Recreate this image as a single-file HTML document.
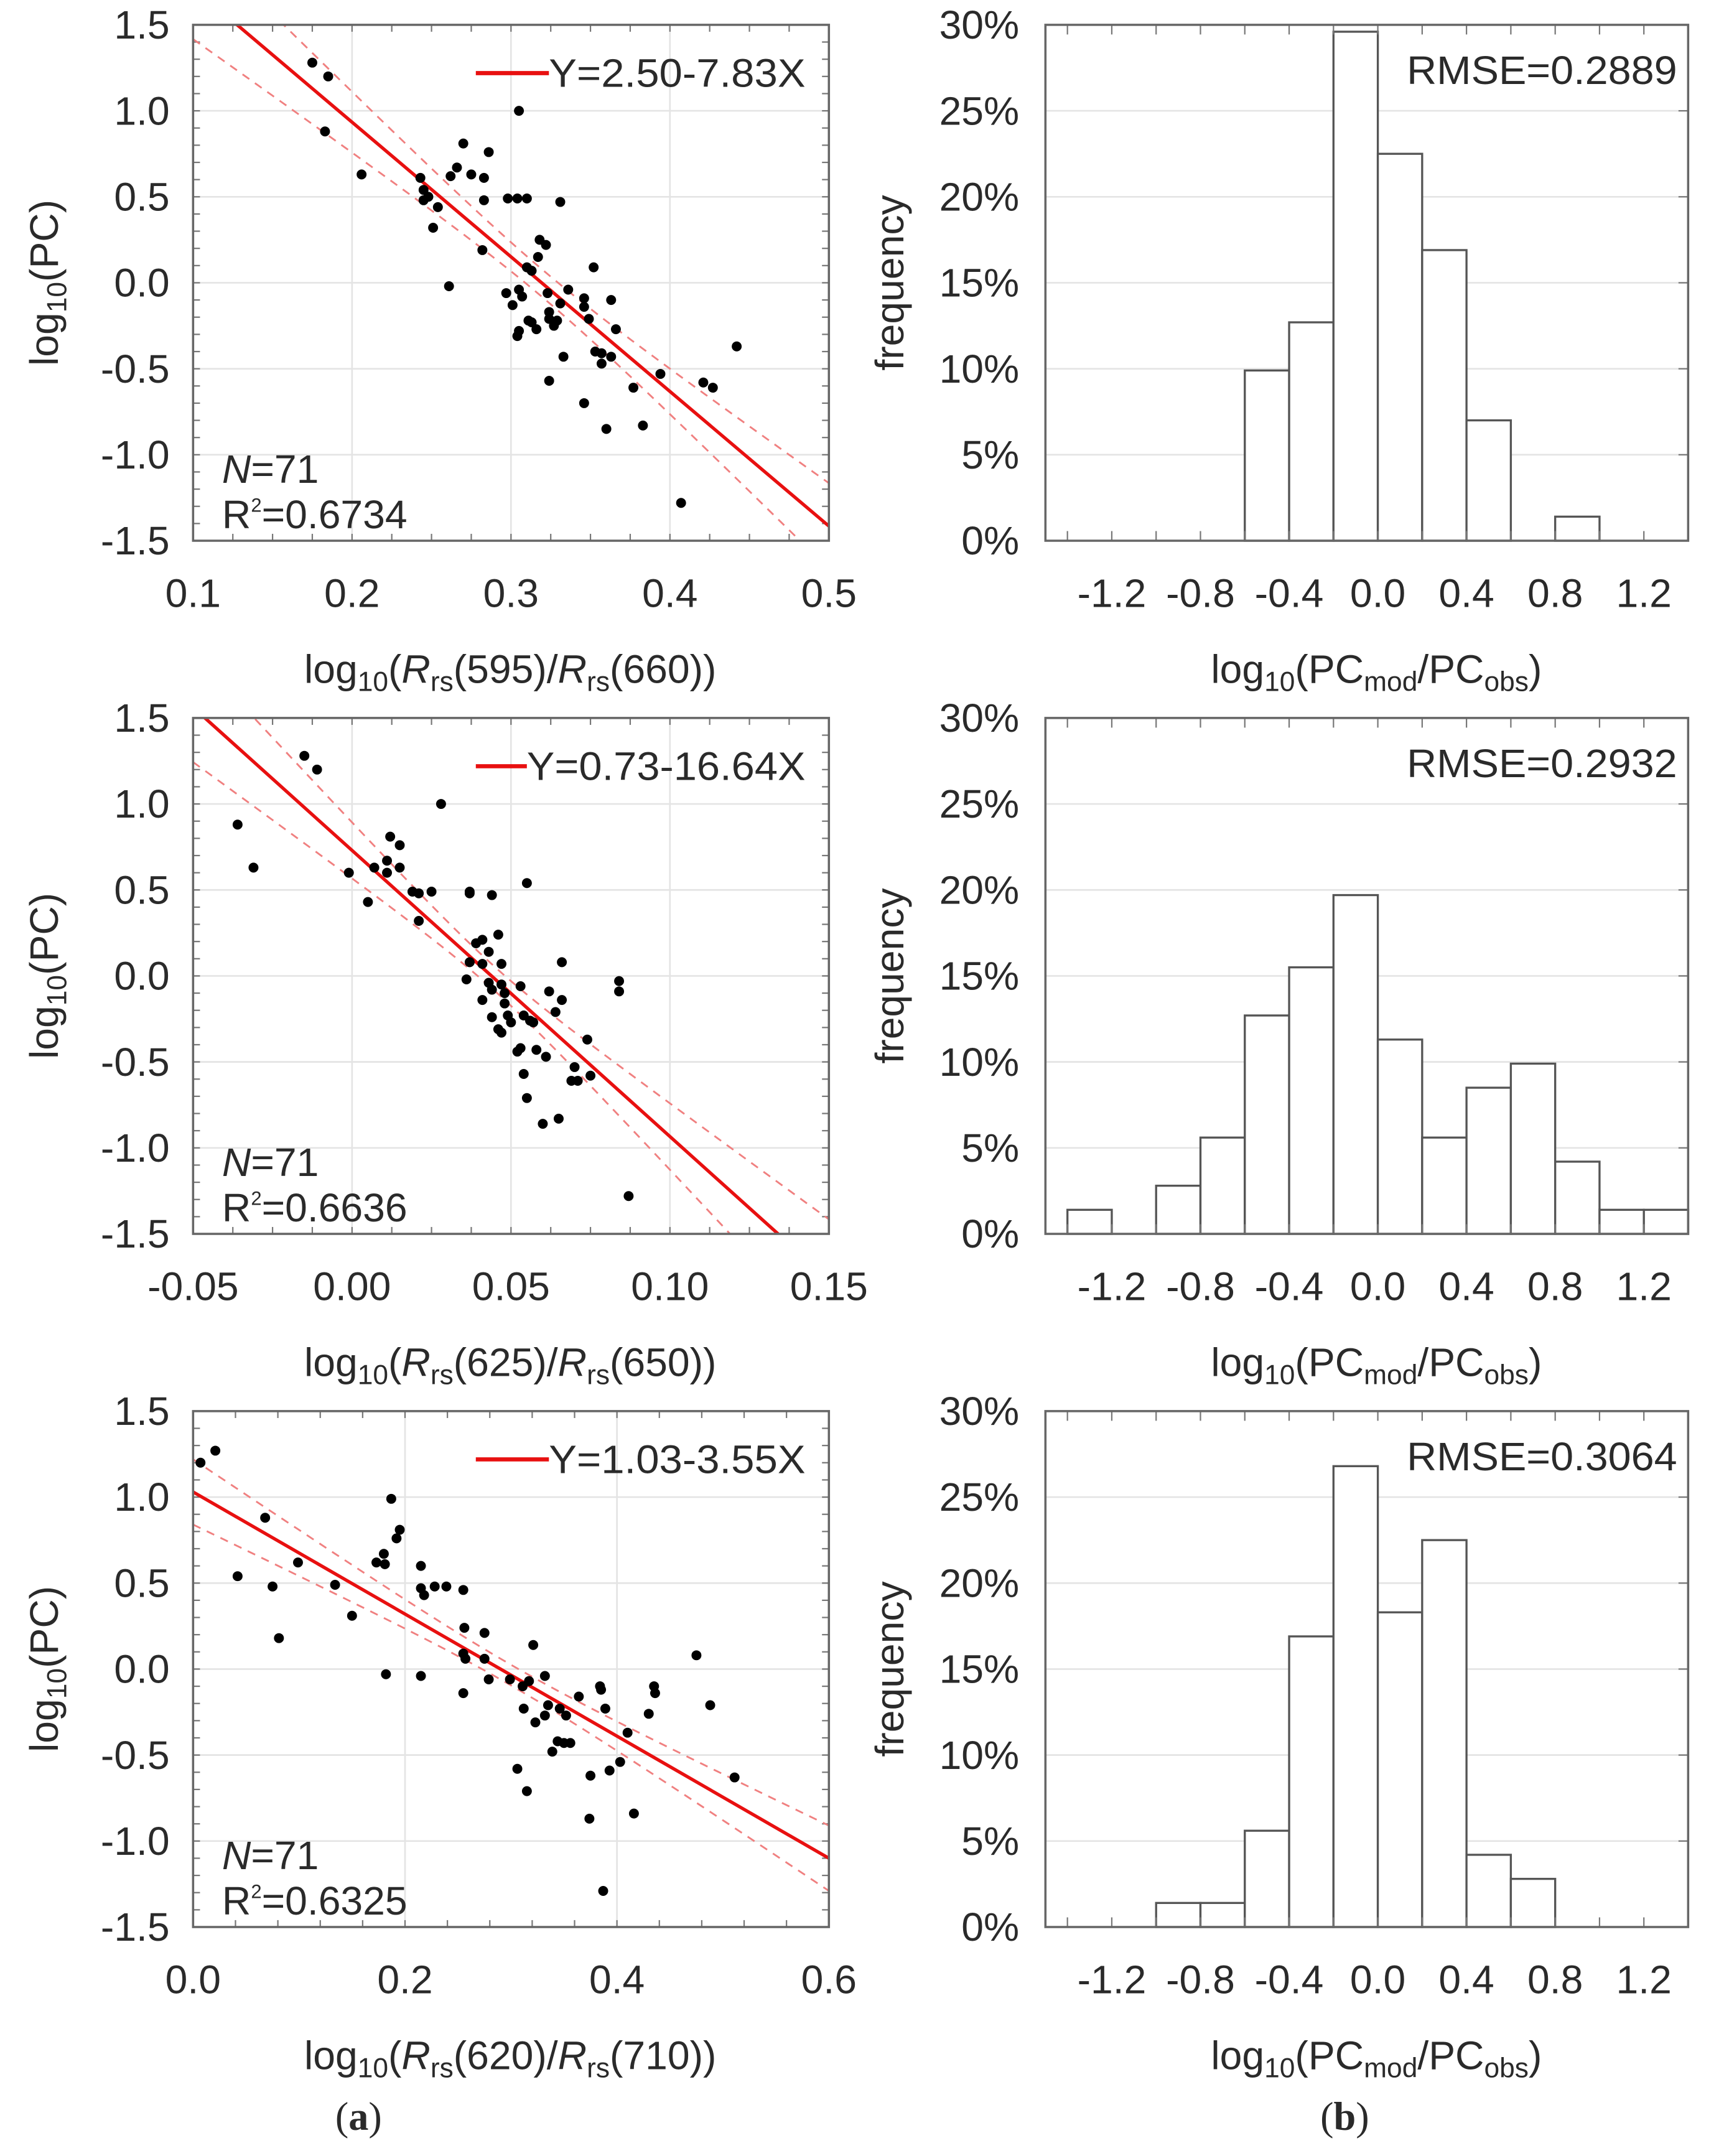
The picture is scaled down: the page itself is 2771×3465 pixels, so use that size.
<!DOCTYPE html>
<html><head><meta charset="utf-8"><style>
html,body{margin:0;padding:0;background:#fff;}
svg{display:block;}
text{font-family:"Liberation Sans",Arial,sans-serif;fill:#2a2a2a;}
</style></head><body>
<svg id="fig" width="2771" height="3465" viewBox="0 0 1250 1563" preserveAspectRatio="none" xmlns="http://www.w3.org/2000/svg">
<text x="260" y="1544" text-anchor="middle" font-size="29" style="font-family:'Liberation Serif',serif">(<tspan font-weight="bold">a</tspan>)</text>
<text x="975" y="1544" text-anchor="middle" font-size="29" style="font-family:'Liberation Serif',serif">(<tspan font-weight="bold">b</tspan>)</text>
</svg>
<script>
// ---- data ----
const s1x=[0.175,0.185,0.183,0.206,0.243,0.245,0.245,0.248,0.254,0.251,0.262,0.266,0.270,0.275,0.283,0.286,0.283,0.282,0.261,0.298,0.304,0.310,0.305,0.331,0.318,0.322,0.317,0.310,0.313,0.297,0.301,0.305,0.307,0.304,0.305,0.311,0.313,0.316,0.323,0.324,0.324,0.327,0.329,0.331,0.336,0.333,0.324,0.346,0.346,0.349,0.352,0.363,0.366,0.353,0.357,0.357,0.363,0.346,0.360,0.377,0.383,0.394,0.421,0.427,0.442,0.407];
const s1y=[1.28,1.20,0.88,0.63,0.61,0.54,0.48,0.50,0.44,0.32,0.62,0.67,0.81,0.63,0.61,0.76,0.48,0.19,-0.02,0.49,0.49,0.49,1.00,0.47,0.25,0.22,0.15,0.09,0.07,-0.06,-0.13,-0.04,-0.08,-0.31,-0.28,-0.22,-0.23,-0.27,-0.06,-0.17,-0.21,-0.25,-0.22,-0.12,-0.04,-0.43,-0.57,-0.09,-0.14,-0.21,0.09,-0.10,-0.27,-0.40,-0.41,-0.47,-0.43,-0.70,-0.85,-0.61,-0.83,-0.53,-0.58,-0.61,-0.37,-1.28];
const s2x=[-0.036,-0.031,-0.015,-0.011,-0.001,0.005,0.007,0.011,0.011,0.012,0.015,0.015,0.019,0.021,0.025,0.021,0.028,0.037,0.037,0.044,0.055,0.046,0.039,0.041,0.043,0.037,0.041,0.047,0.036,0.043,0.044,0.047,0.048,0.041,0.048,0.053,0.044,0.049,0.050,0.046,0.047,0.054,0.056,0.057,0.062,0.066,0.066,0.064,0.052,0.053,0.058,0.061,0.054,0.055,0.060,0.065,0.074,0.070,0.069,0.071,0.075,0.084,0.084,0.087];
const s2y=[0.88,0.63,1.28,1.20,0.60,0.43,0.63,0.67,0.60,0.81,0.76,0.63,0.49,0.48,0.49,0.32,1.00,0.49,0.48,0.47,0.54,0.24,0.19,0.21,0.14,0.08,0.07,0.07,-0.02,-0.04,-0.08,-0.05,-0.10,-0.14,-0.16,-0.06,-0.24,-0.23,-0.27,-0.31,-0.33,-0.23,-0.26,-0.27,-0.09,-0.14,0.08,-0.21,-0.44,-0.42,-0.43,-0.47,-0.57,-0.71,-0.86,-0.83,-0.37,-0.53,-0.61,-0.61,-0.58,-0.03,-0.09,-1.28];
const s3x=[0.007,0.021,0.042,0.068,0.075,0.081,0.099,0.134,0.150,0.173,0.180,0.181,0.182,0.187,0.192,0.195,0.215,0.215,0.218,0.228,0.239,0.255,0.215,0.256,0.255,0.257,0.255,0.275,0.275,0.279,0.299,0.311,0.317,0.321,0.332,0.312,0.323,0.332,0.335,0.346,0.352,0.364,0.344,0.350,0.356,0.339,0.384,0.385,0.389,0.306,0.315,0.375,0.374,0.393,0.403,0.410,0.416,0.430,0.435,0.436,0.475,0.488,0.511,0.387];
const s3y=[1.20,1.27,0.54,0.88,0.48,0.18,0.62,0.49,0.31,0.62,0.67,0.61,-0.03,0.99,0.76,0.81,0.60,0.47,0.43,0.48,0.48,0.46,-0.04,0.24,0.09,0.06,-0.14,0.21,0.06,-0.06,-0.06,-0.10,-0.07,0.14,-0.04,-0.23,-0.31,-0.27,-0.21,-0.23,-0.27,-0.16,-0.42,-0.43,-0.43,-0.48,-0.10,-0.12,-0.23,-0.58,-0.71,-0.62,-0.87,-0.59,-0.54,-0.37,-0.84,-0.26,-0.10,-0.14,0.08,-0.21,-0.63,-1.29];
const fitA=[2.50,0.73,1.03];
const fitB=[-7.83,-16.64,-3.55];
const legendText=["Y=2.50-7.83X","Y=0.73-16.64X","Y=1.03-3.55X"];
const r2Text=["0.6734","0.6636","0.6325"];
const xTicks1=[0.1,0.2,0.3,0.4,0.5];
const xTicks2=[-0.05,0.00,0.05,0.10,0.15];
const xTicks3=[0.0,0.2,0.4,0.6];
const xTickLabels1=["0.1","0.2","0.3","0.4","0.5"];
const xTickLabels2=["-0.05","0.00","0.05","0.10","0.15"];
const xTickLabels3=["0.0","0.2","0.4","0.6"];
const yTicks=[1.5,1.0,0.5,0.0,-0.5,-1.0,-1.5];
const yTickLabels=["1.5","1.0","0.5","0.0","-0.5","-1.0","-1.5"];
const xBands=[["595","660"],["625","650"],["620","710"]];
const binStarts=[-1.4,-1.2,-1.0,-0.8,-0.6,-0.4,-0.2,0.0,0.2,0.4,0.6,0.8,1.0,1.2];
const hist1=[0,0,0,0,9.9,12.7,29.6,22.5,16.9,7.0,0,1.4,0,0];
const hist2=[1.4,0,2.8,5.6,12.7,15.5,19.7,11.3,5.6,8.5,9.9,4.2,1.4,1.4];
const hist3=[0,0,1.4,1.4,5.6,16.9,26.8,18.3,22.5,4.2,2.8,0,0,0];
const rmseText=["RMSE=0.2889","RMSE=0.2932","RMSE=0.3064"];
const hxTicks=[-1.2,-0.8,-0.4,0.0,0.4,0.8,1.2];
const hxTickLabels=["-1.2","-0.8","-0.4","0.0","0.4","0.8","1.2"];
const hyTicks=[0,5,10,15,20,25,30];
const ciMid=[0.32,0.045,0.30];
const ciM=[0.08,0.07,0.06];
const ciK=[1.73,10.7,0.36];

const NS="http://www.w3.org/2000/svg";
const svg=document.getElementById('fig');
function el(t,a,p){const e=document.createElementNS(NS,t);for(const k in a)e.setAttribute(k,a[k]);(p||svg).appendChild(e);return e;}

const SX=[[0.1,0.5],[-0.05,0.15],[0.0,0.6]];
const SXS=[s1x,s2x,s3x],SYS=[s1y,s2y,s3y];
const XT=[xTicks1,xTicks2,xTicks3],XTL=[xTickLabels1,xTickLabels2,xTickLabels3];
const XMIN=[0.025,0.0125,0.04];
const HS=[hist1,hist2,hist3];
const LEGX=[398,382,398];
const L=140,R=601,HL=758,HR=1224;
const FS=29;

for(let p=0;p<3;p++){
  const off=p*502.5, T=18+off, B=392+off;
  const [x0,x1]=SX[p];
  const xm=v=>L+(v-x0)/(x1-x0)*(R-L);
  const ym=v=>T+(1.5-v)/3*(B-T);
  const g=el('g',{});
  
  
  const cid='clip'+p;
  const cp=el('clipPath',{id:cid},g);el('rect',{x:L,y:T,width:R-L,height:B-T},cp);
  XT[p].forEach(v=>{const l=el('line',{x1:xm(v),x2:xm(v),y1:T,y2:B,stroke:'#e4e4e4','stroke-width':1.2},g);});
  yTicks.forEach(v=>{const l=el('line',{x1:L,x2:R,y1:ym(v),y2:ym(v),stroke:'#e4e4e4','stroke-width':1.2},g);});
  for(let v=x0;v<=x1+1e-9;v+=XMIN[p]){const X=xm(v);el('line',{x1:X,x2:X,y1:B,y2:B-5,stroke:'#777','stroke-width':1},g);el('line',{x1:X,x2:X,y1:T,y2:T+5,stroke:'#777','stroke-width':1},g);}
  for(let v=-1.5;v<=1.5+1e-9;v+=0.1){const Y=ym(v);el('line',{x1:L,x2:L+5,y1:Y,y2:Y,stroke:'#777','stroke-width':1},g);el('line',{x1:R,x2:R-5,y1:Y,y2:Y,stroke:'#777','stroke-width':1},g);}
  const cg=el('g',{'clip-path':'url(#'+cid+')'},g);
  [1,-1].forEach(sgn=>{let d='';for(let i=0;i<=80;i++){const x=x0+(x1-x0)*i/80;const f=fitA[p]+fitB[p]*x;const hw=Math.sqrt(ciM[p]*ciM[p]+ciK[p]*(x-ciMid[p])*(x-ciMid[p]));d+=(i?'L':'M')+xm(x).toFixed(2)+','+ym(f+sgn*hw).toFixed(2);}
    const pa=el('path',{d:d,fill:'none',stroke:'#f08080','stroke-width':1.3,'stroke-dasharray':'6,5'},cg);});
  const fl=el('line',{x1:xm(x0),y1:ym(fitA[p]+fitB[p]*x0),x2:xm(x1),y2:ym(fitA[p]+fitB[p]*x1),stroke:'#e81010','stroke-width':2.4},cg);
  
  SXS[p].forEach((x,i)=>{const c=el('circle',{cx:xm(x),cy:ym(SYS[p][i]),r:3.6,fill:'#000'},cg);});
  const fr=el('rect',{x:L,y:T,width:R-L,height:B-T,fill:'none',stroke:'#666','stroke-width':1.6},g);
  
  XT[p].forEach((v,i)=>{const t=el('text',{x:xm(v),y:B+48,'text-anchor':'middle','font-size':FS},g);t.textContent=XTL[p][i];});
  yTicks.forEach((v,i)=>{const t=el('text',{x:123,y:ym(v)+10,'text-anchor':'end','font-size':FS},g);t.textContent=yTickLabels[i];});
  const yt=el('text',{x:0,y:0,'text-anchor':'middle','font-size':FS,transform:'translate(42,'+(205+off)+') rotate(-90)'},g);
  yt.innerHTML='log<tspan font-size="20" dy="6">10</tspan><tspan dy="-6">(PC)</tspan>';
  
  const xt=el('text',{x:370,y:495+off,'text-anchor':'middle','font-size':FS},g);
  xt.innerHTML='log<tspan font-size="20" dy="6">10</tspan><tspan dy="-6">(</tspan><tspan font-style="italic">R</tspan><tspan font-size="20" dy="6">rs</tspan><tspan dy="-6">('+xBands[p][0]+')/</tspan><tspan font-style="italic">R</tspan><tspan font-size="20" dy="6">rs</tspan><tspan dy="-6">('+xBands[p][1]+'))</tspan>';
  
  const lg=el('line',{x1:345,x2:LEGX[p],y1:53+off,y2:53+off,stroke:'#e81010','stroke-width':3},g);
  
  const lt=el('text',{x:LEGX[p],y:63+off,'font-size':FS,textLength:584-LEGX[p],lengthAdjust:'spacingAndGlyphs'},g);lt.textContent=legendText[p];
  
  const nt=el('text',{x:161,y:350+off,'font-size':FS},g);nt.innerHTML='<tspan font-style="italic">N</tspan>=71';
  
  const rt=el('text',{x:161,y:383+off,'font-size':FS},g);rt.innerHTML='R<tspan font-size="14" dy="-12">2</tspan><tspan dy="12">='+r2Text[p]+'</tspan>';
  

  const hx=v=>999+v*160.75;
  const hy=v=>B-v/30*(B-T);
  const h=el('g',{});
  
  
  hyTicks.forEach(v=>{if(v>0&&v<30){const l=el('line',{x1:HL,x2:HR,y1:hy(v),y2:hy(v),stroke:'#e4e4e4','stroke-width':1.2},h);}});
  binStarts.forEach((b,i)=>{const v=HS[p][i];if(v>0){const r=el('rect',{x:hx(b),y:hy(v),width:hx(b+0.2)-hx(b),height:hy(0)-hy(v),fill:'#fff',stroke:'#555','stroke-width':1.5},h);}});
  for(let v=-1.4;v<=1.4+1e-9;v+=0.2){const X=hx(v);if(X>HL+1&&X<HR-1){el('line',{x1:X,x2:X,y1:B,y2:B-7,stroke:'#777','stroke-width':1},h);el('line',{x1:X,x2:X,y1:T,y2:T+7,stroke:'#777','stroke-width':1},h);}}
  hyTicks.forEach(v=>{el('line',{x1:HR,x2:HR-7,y1:hy(v),y2:hy(v),stroke:'#777','stroke-width':1},h);});
  const hf=el('rect',{x:HL,y:T,width:HR-HL,height:B-T,fill:'none',stroke:'#666','stroke-width':1.6},h);
  
  hxTicks.forEach((v,i)=>{const t=el('text',{x:hx(v),y:B+48,'text-anchor':'middle','font-size':FS},h);t.textContent=hxTickLabels[i];});
  hyTicks.forEach(v=>{const t=el('text',{x:739,y:hy(v)+10,'text-anchor':'end','font-size':FS},h);t.textContent=v+'%';});
  const ht=el('text',{x:0,y:0,'text-anchor':'middle','font-size':FS,transform:'translate(655,'+(205+off)+') rotate(-90)'},h);ht.textContent='frequency';
  
  const hxt=el('text',{x:998,y:495+off,'text-anchor':'middle','font-size':FS},h);
  hxt.innerHTML='log<tspan font-size="20" dy="6">10</tspan><tspan dy="-6">(PC</tspan><tspan font-size="20" dy="6">mod</tspan><tspan dy="-6">/PC</tspan><tspan font-size="20" dy="6">obs</tspan><tspan dy="-6">)</tspan>';
  
  const rm=el('text',{x:1020,y:61+off,'font-size':FS,textLength:196,lengthAdjust:'spacingAndGlyphs'},h);rm.textContent=rmseText[p];
  
}
</script>
</body></html>
